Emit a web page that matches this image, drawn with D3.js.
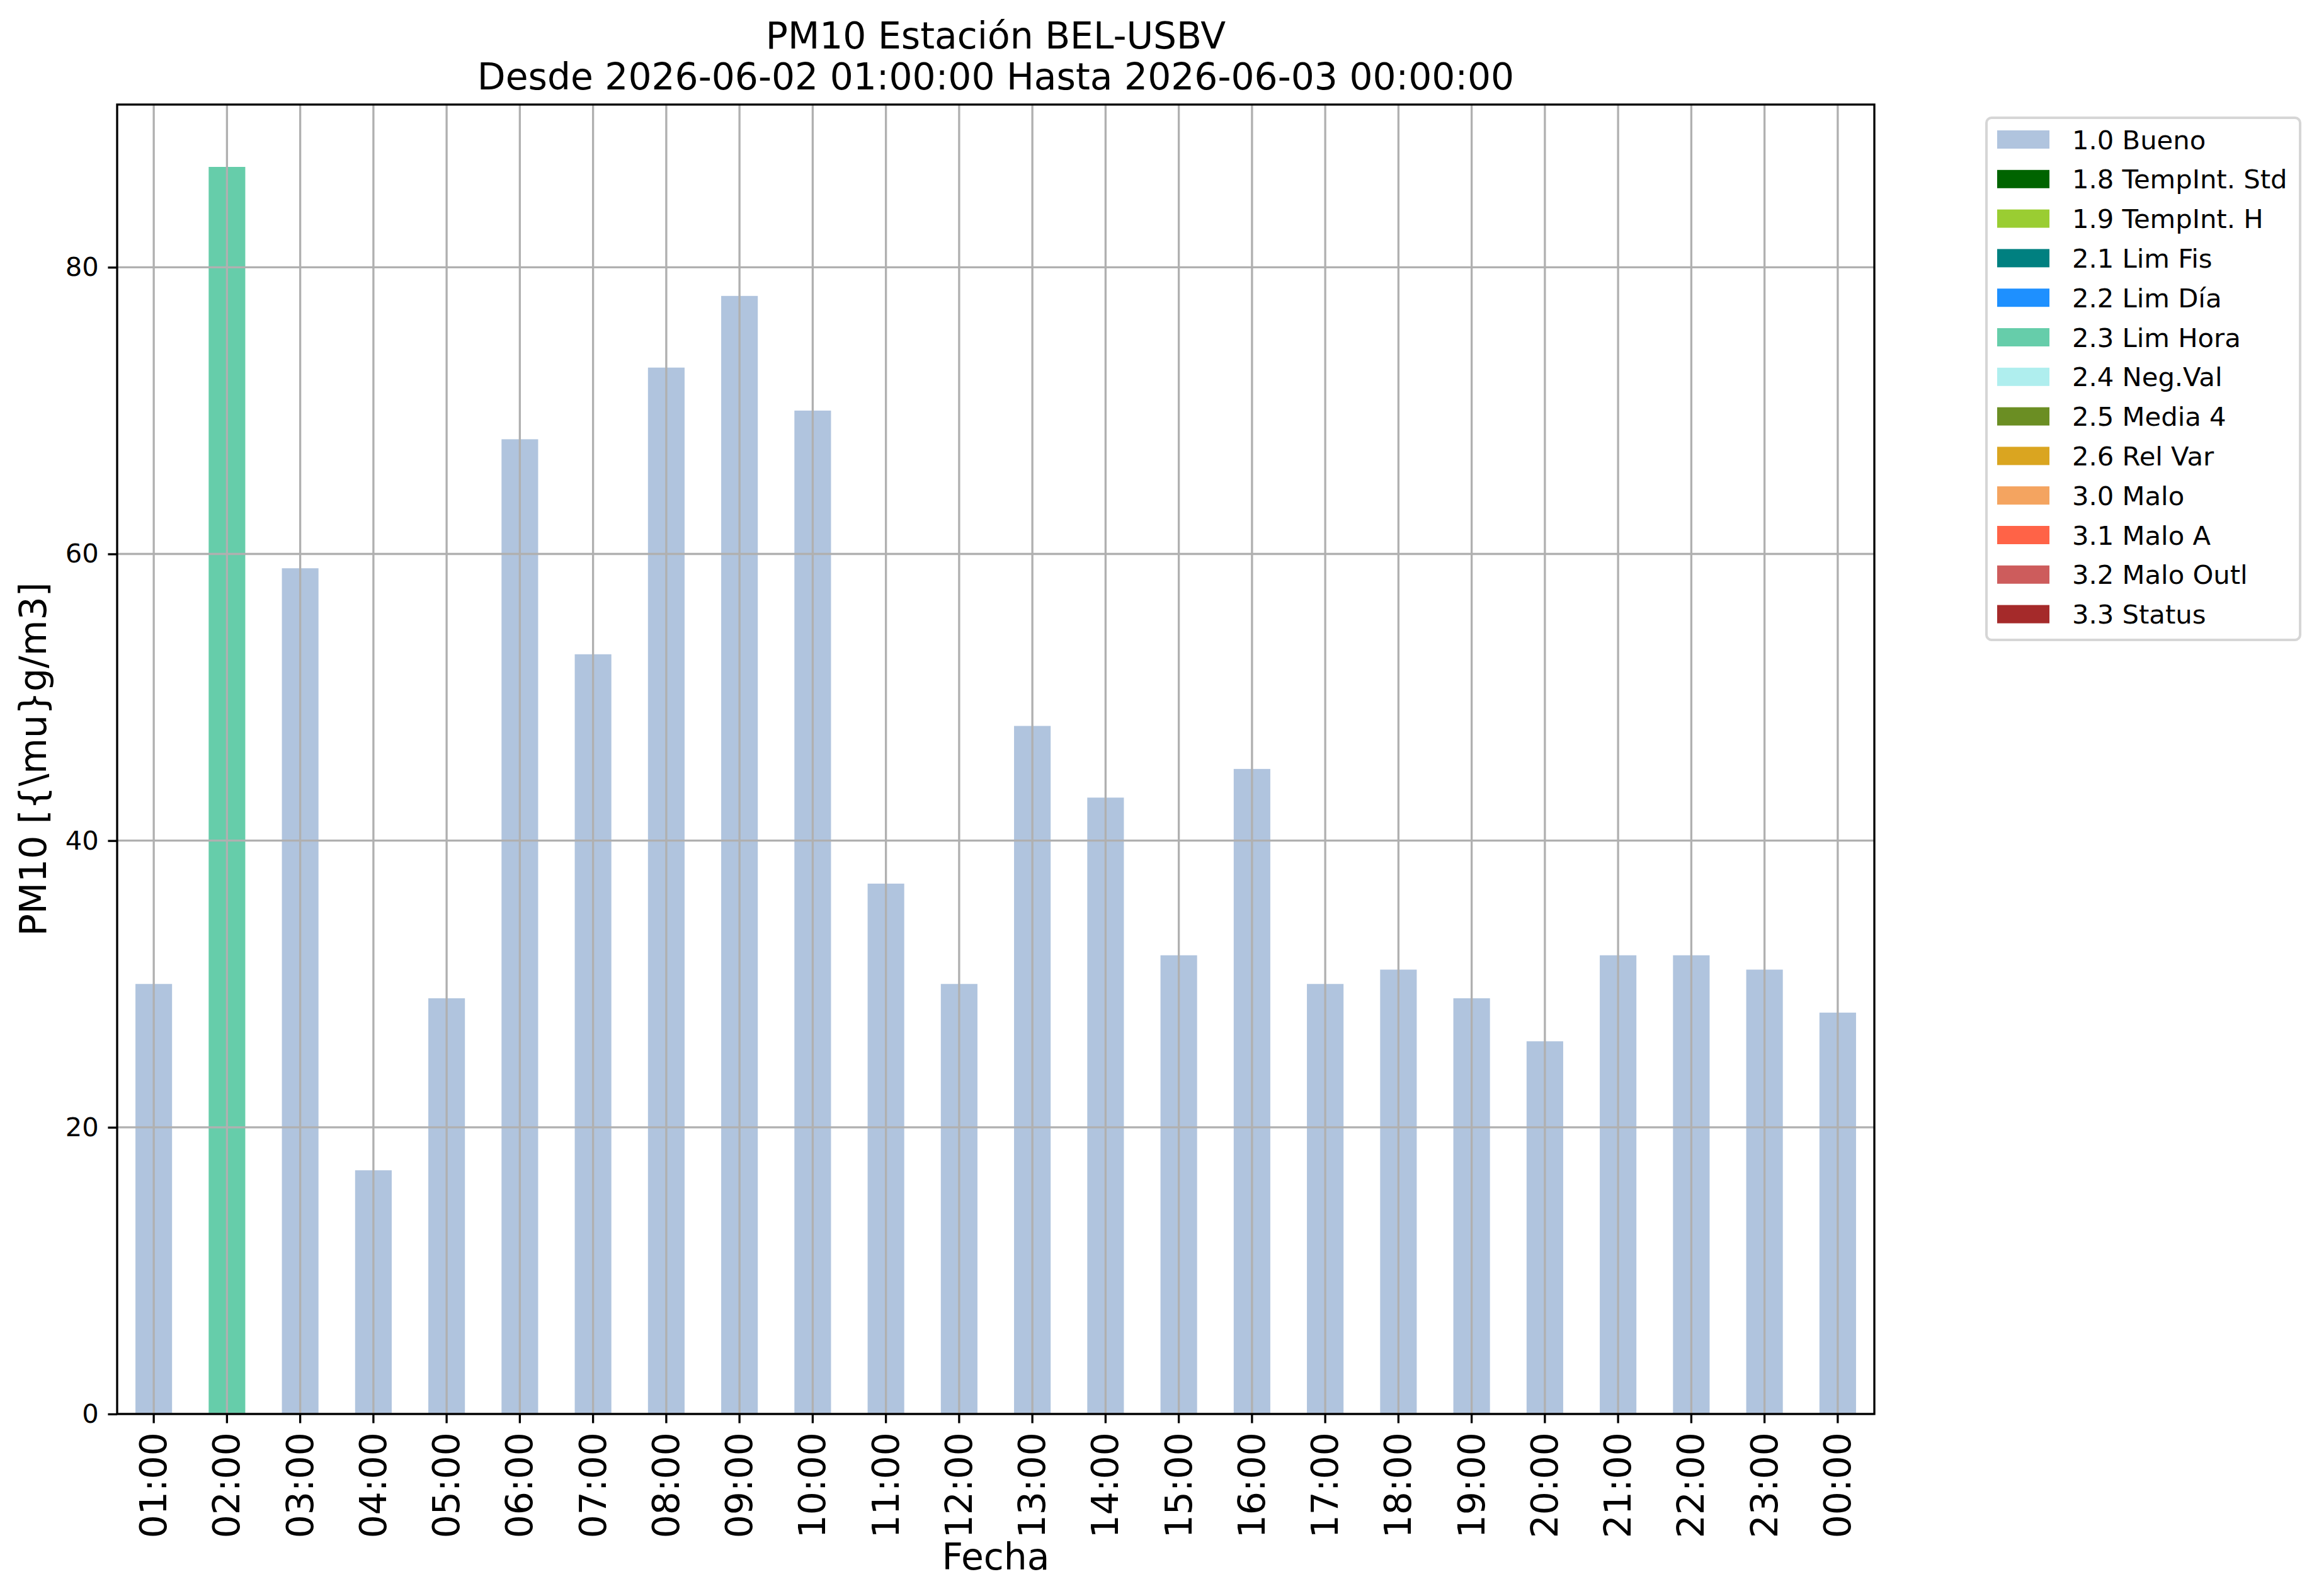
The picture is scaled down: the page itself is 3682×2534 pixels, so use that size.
<!DOCTYPE html>
<html>
<head>
<meta charset="utf-8">
<script src="https://cdn.jsdelivr.net/npm/d3@7"></script>
<style>
  body { margin: 0; background: #fff; }
  svg { display: block; font-family: "DejaVu Sans", sans-serif; }
</style>
</head>
<body>
<div id="chart"></div>
<script>
// Hourly PM10 values and their quality flag
const hours = ["01:00", "02:00", "03:00", "04:00", "05:00", "06:00", "07:00", "08:00",
  "09:00", "10:00", "11:00", "12:00", "13:00", "14:00", "15:00", "16:00",
  "17:00", "18:00", "19:00", "20:00", "21:00", "22:00", "23:00", "00:00"];
const pm10 = [30, 87, 59, 17, 29, 68, 53, 73, 78, 70, 37, 30, 48, 43, 32, 45,
  30, 31, 29, 26, 32, 32, 31, 28];
const flags = ["1.0 Bueno", "2.3 Lim Hora", "1.0 Bueno", "1.0 Bueno", "1.0 Bueno", "1.0 Bueno",
  "1.0 Bueno", "1.0 Bueno", "1.0 Bueno", "1.0 Bueno", "1.0 Bueno", "1.0 Bueno",
  "1.0 Bueno", "1.0 Bueno", "1.0 Bueno", "1.0 Bueno", "1.0 Bueno", "1.0 Bueno",
  "1.0 Bueno", "1.0 Bueno", "1.0 Bueno", "1.0 Bueno", "1.0 Bueno", "1.0 Bueno"];

// Flag categories (legend order) and their colours
const categories = ["1.0 Bueno", "1.8 TempInt. Std", "1.9 TempInt. H", "2.1 Lim Fis",
  "2.2 Lim Día", "2.3 Lim Hora", "2.4 Neg.Val", "2.5 Media 4", "2.6 Rel Var",
  "3.0 Malo", "3.1 Malo A", "3.2 Malo Outl", "3.3 Status"];
const colors = ["#b0c4de", "#006400", "#9acd32", "#008080", "#1e90ff", "#66cdaa",
  "#afeeee", "#6b8e23", "#daa520", "#f4a460", "#ff6347", "#cd5c5c", "#a52a2a"];
const yTicks = [0, 20, 40, 60, 80];

const titleLines = ["PM10 Estación BEL-USBV", "Desde 2026-06-02 01:00:00 Hasta 2026-06-03 00:00:00"];

// Figure geometry (px)
const W = 3682, H = 2534;
const margin = { top: 166, right: 706, bottom: 289, left: 186 };
const width = W - margin.left - margin.right;
const height = H - margin.top - margin.bottom;
const lw = 3.33;       // 0.8pt line width
const tickLen = 14.6;  // 3.5pt

// Wide table, one column per flag (like a stacked pandas bar plot)
const table = hours.map((h, i) => {
  const row = { hour: h };
  categories.forEach(c => { row[c] = flags[i] === c ? pm10[i] : 0; });
  return row;
});
const series = d3.stack().keys(categories)(table);

const svg = d3.select("#chart")
  .append("svg")
  .attr("width", W)
  .attr("height", H);

const g = svg.append("g")
  .attr("transform", `translate(${margin.left},${margin.top})`);

const x = d3.scaleBand()
  .domain(hours)
  .range([0, width])
  .paddingInner(0.5)
  .paddingOuter(0.25);

const y = d3.scaleLinear()
  .domain([0, d3.max(pm10) * 1.05])
  .range([height, 0]);

const color = d3.scaleOrdinal().domain(categories).range(colors);

// Bars
g.selectAll(".serie")
  .data(series)
  .enter().append("g")
  .attr("class", "serie")
  .attr("fill", d => color(d.key))
  .selectAll("rect")
  .data(d => d.filter(p => p[1] - p[0] > 0))
  .enter().append("rect")
  .attr("x", d => x(d.data.hour))
  .attr("y", d => y(d[1]))
  .attr("width", x.bandwidth())
  .attr("height", d => y(d[0]) - y(d[1]));

// Grid (drawn above the bars, as in the original)
g.append("g")
  .selectAll("line")
  .data(hours)
  .enter().append("line")
  .attr("x1", d => x(d) + x.bandwidth() / 2)
  .attr("x2", d => x(d) + x.bandwidth() / 2)
  .attr("y1", 0)
  .attr("y2", height)
  .attr("stroke", "#b0b0b0")
  .attr("stroke-width", lw);

g.append("g")
  .selectAll("line")
  .data(yTicks)
  .enter().append("line")
  .attr("x1", 0)
  .attr("x2", width)
  .attr("y1", d => y(d))
  .attr("y2", d => y(d))
  .attr("stroke", "#b0b0b0")
  .attr("stroke-width", lw);

// X axis
const xAxis = g.append("g")
  .attr("transform", `translate(0,${height})`)
  .call(d3.axisBottom(x).tickSize(tickLen).tickPadding(14.6));
xAxis.select(".domain").remove();
xAxis.selectAll(".tick line").attr("stroke", "#000").attr("stroke-width", lw);
xAxis.selectAll(".tick text")
  .attr("font-size", 58.3)
  .attr("fill", "#000")
  .attr("font-family", "DejaVu Sans")
  .attr("y", 0)
  .attr("dy", 0)
  .attr("transform", `translate(0,${tickLen + 14.6}) rotate(-90)`)
  .attr("text-anchor", "end")
  .attr("dominant-baseline", "central");

// Y axis
const yAxis = g.append("g")
  .call(d3.axisLeft(y).tickValues(yTicks).tickSize(tickLen).tickPadding(14.6));
yAxis.select(".domain").remove();
yAxis.selectAll(".tick line").attr("stroke", "#000").attr("stroke-width", lw);
yAxis.selectAll(".tick text")
  .attr("font-size", 41.7)
  .attr("fill", "#000")
  .attr("font-family", "DejaVu Sans");

// Frame
g.append("rect")
  .attr("width", width)
  .attr("height", height)
  .attr("fill", "none")
  .attr("stroke", "#000")
  .attr("stroke-width", lw);

// Titles and axis labels
svg.append("text")
  .attr("x", margin.left + width / 2)
  .attr("y", 76.5)
  .attr("text-anchor", "middle")
  .attr("font-size", 58.3)
  .text(titleLines[0]);
svg.append("text")
  .attr("x", margin.left + width / 2)
  .attr("y", 141.6)
  .attr("text-anchor", "middle")
  .attr("font-size", 58.3)
  .text(titleLines[1]);

svg.append("text")
  .attr("x", margin.left + width / 2)
  .attr("y", 2492)
  .attr("text-anchor", "middle")
  .attr("font-size", 58.3)
  .text("Fecha");

svg.append("text")
  .attr("transform", `translate(73,${margin.top + height / 2}) rotate(-90)`)
  .attr("text-anchor", "middle")
  .attr("font-size", 58.3)
  .text("PM10 [{\\mu}g/m3]");

// Legend
const legend = svg.append("g").attr("transform", "translate(3154,187)");
legend.append("rect")
  .attr("width", 498)
  .attr("height", 829)
  .attr("rx", 8)
  .attr("fill", "#fff")
  .attr("fill-opacity", 0.8)
  .attr("stroke", "#d6d6d6")
  .attr("stroke-width", 4);

const item = legend.selectAll(".item")
  .data(categories)
  .enter().append("g")
  .attr("class", "item")
  .attr("transform", (d, i) => `translate(0,${20 + i * 62.8})`);

item.append("rect")
  .attr("x", 17)
  .attr("y", 0)
  .attr("width", 83)
  .attr("height", 29)
  .attr("fill", d => color(d));

item.append("text")
  .attr("x", 136)
  .attr("y", 29.5)
  .attr("font-size", 41.7)
  .text(d => d);
</script>
</body>
</html>
